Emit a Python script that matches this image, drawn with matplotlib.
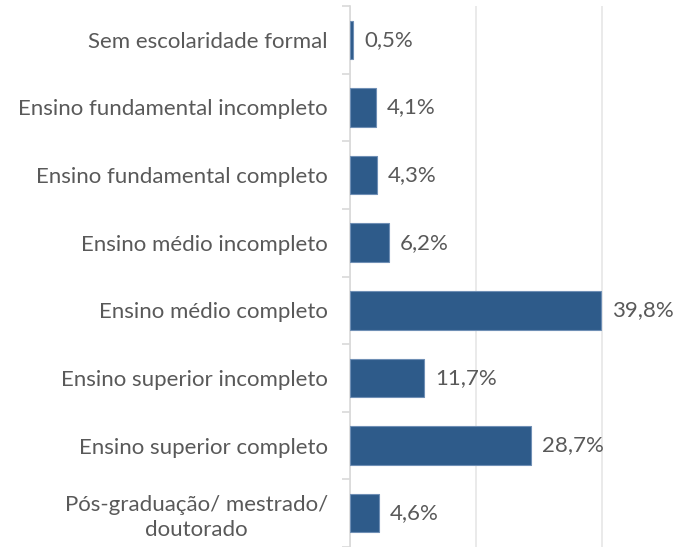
import matplotlib
matplotlib.use("Agg")
import matplotlib.pyplot as plt
from matplotlib.ticker import MultipleLocator

categories = ["Sem escolaridade formal", "Ensino fundamental incompleto",
              "Ensino fundamental completo", "Ensino médio incompleto",
              "Ensino médio completo", "Ensino superior incompleto",
              "Ensino superior completo", "Pós-graduação/ mestrado/\ndoutorado"]
values = [0.5, 4.1, 4.3, 6.2, 39.8, 11.7, 28.7, 4.6]
labels = ["0,5%", "4,1%", "4,3%", "6,2%", "39,8%", "11,7%", "28,7%", "4,6%"]

W, H = 676, 547
fig = plt.figure(figsize=(W/100, H/100), dpi=100)
x0, y_top = 350, 6
ax = fig.add_axes([x0/W, 0, 1 - x0/W, 1 - y_top/H])
px_per = 126/20.0
ax.set_xlim(0, (W - x0)/px_per)
step = 68
ax.set_ylim(-0.5 + (H - y_top)/step, -0.5)

text_color = "#595959"
font = "Lato"
fs = 16
ax.barh(range(len(values)), values, height=0.57, color="#2E5B8A",
        edgecolor="#6F8FB5", linewidth=0.8, zorder=3)
for i, (v, l) in enumerate(zip(values, labels)):
    ax.text(v + 11/px_per, i, l, va="center", ha="left", color=text_color,
            fontsize=fs, family=font)

ax.xaxis.set_major_locator(MultipleLocator(20))
ax.grid(axis="x", color="#E6E6E6", linewidth=1.2, zorder=0)
ax.set_xticklabels([])
ax.tick_params(axis="x", length=0)
ax.set_yticks(range(len(categories)))
ax.set_yticklabels(categories, family=font, fontsize=fs, color=text_color,
                   ha="right", multialignment="center", linespacing=1.3)
ax.tick_params(axis="y", length=0, pad=16)
ax.set_yticks([i + 0.5 for i in range(-1, len(categories))], minor=True)
ax.tick_params(axis="y", which="minor", length=6, color="#D9D9D9", width=1.2)
for s in ["top", "right", "bottom"]:
    ax.spines[s].set_visible(False)
ax.spines["left"].set_color("#D9D9D9")
ax.spines["left"].set_linewidth(1.2)
fig.savefig("out.png", dpi=100)
